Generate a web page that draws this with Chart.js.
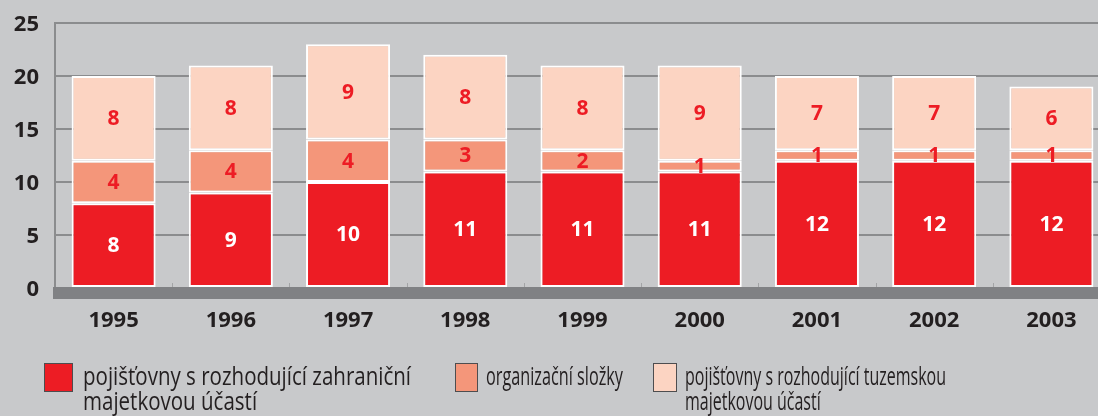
<!DOCTYPE html>
<html><head><meta charset="utf-8">
<script src="https://cdn.jsdelivr.net/npm/chart.js@4/dist/chart.umd.min.js"></script>
<style>
html,body{margin:0;padding:0;background:#c8c9cb;width:1098px;height:416px;overflow:hidden;}
#wrap{position:absolute;left:0;top:0;width:1110px;height:345px;}
#legend{position:absolute;left:0;top:0;width:1098px;height:416px;}
.sw{position:absolute;box-sizing:border-box;border:1px solid #4d4d4f;}
.txt{position:absolute;font-family:"Open Sans",sans-serif;font-size:26px;line-height:25px;color:#231f20;white-space:nowrap;transform-origin:0 0;}
.txt div{white-space:nowrap;}
</style></head>
<body>
<div id="wrap"><canvas id="c" width="1110" height="345"></canvas></div>
<div id="legend"></div>
<script>
const years = ['1995','1996','1997','1998','1999','2000','2001','2002','2003'];
const foreignValues = [8, 9, 10, 11, 11, 11, 12, 12, 12];
const branchValues = [4, 4, 4, 3, 2, 1, 1, 1, 1];
const domesticValues = [8, 8, 9, 8, 8, 9, 7, 7, 6];
const seriesNames = [
  ['pojišťovny s rozhodující zahraniční', 'majetkovou účastí'],
  ['organizační složky'],
  ['pojišťovny s rozhodující tuzemskou', 'majetkovou účastí']
];
const seriesColors = ['#ed1c24', '#f4967a', '#fcd4c2'];
const labelColors = ['#ffffff', '#ed1c24', '#ed1c24'];
const yMin = 0, yMax = 25, yStep = 5;

const FONT = '"Open Sans", sans-serif';

const bandPlugin = {
  id: 'band',
  afterDatasetsDraw(chart) {
    const ctx = chart.ctx;
    const y0 = chart.scales.y.getPixelForValue(0);
    const xs = chart.scales.x;
    ctx.save();
    ctx.strokeStyle = '#a3a4a6';
    ctx.lineWidth = 1;
    for (let i = 1; i < years.length; i++) {
      const bx = Math.round((xs.getPixelForTick(i - 1) + xs.getPixelForTick(i)) / 2) + 0.5;
      ctx.beginPath(); ctx.moveTo(bx, y0 - 5); ctx.lineTo(bx, y0); ctx.stroke();
    }
    ctx.fillStyle = '#808184';
    ctx.fillRect(53, y0 - 1, chart.width, 12);
    ctx.restore();
  }
};

const valueLabels = {
  id: 'valueLabels',
  afterDatasetsDraw(chart) {
    const ctx = chart.ctx;
    ctx.save();
    ctx.font = 'bold 21px ' + FONT;
    ctx.textAlign = 'center';
    ctx.textBaseline = 'middle';
    chart.data.datasets.forEach((ds, di) => {
      const meta = chart.getDatasetMeta(di);
      ctx.fillStyle = labelColors[di];
      meta.data.forEach((el, i) => {
        const p = el.getProps(['x', 'y', 'base'], true);
        ctx.fillText(String(ds.data[i]), p.x, (p.y + p.base) / 2 + 1);
      });
    });
    ctx.restore();
  }
};

const datasets = [foreignValues, branchValues, domesticValues].map((d, i) => ({
  label: seriesNames[i].join(' '),
  data: d,
  backgroundColor: seriesColors[i],
  borderColor: '#ffffff',
  borderWidth: 2,
  borderSkipped: false,
  barPercentage: 1,
  categoryPercentage: 0.717
}));

new Chart(document.getElementById('c'), {
  type: 'bar',
  data: { labels: years, datasets },
  options: {
    responsive: false,
    animation: false,
    events: [],
    layout: { padding: { top: 23, right: 0, bottom: 0, left: 0 } },
    plugins: { legend: { display: false }, tooltip: { enabled: false } },
    scales: {
      x: {
        stacked: true,
        grid: { display: false, drawTicks: false },
        border: { display: false },
        ticks: { color: '#231f20', font: { family: FONT, size: 22, weight: 'bold' }, padding: 20 },
        afterFit(s) { s.height = 57; s.paddingLeft = 0; s.paddingRight = 0; }
      },
      y: {
        stacked: true,
        min: yMin, max: yMax,
        grid: { color: '#8b8c8e', lineWidth: 2, drawTicks: false },
        border: { display: true, color: '#8b8c8e', width: 2 },
        ticks: { stepSize: yStep, color: '#231f20', font: { family: FONT, size: 22, weight: 'bold' }, padding: 16, labelOffset: 2 },
        afterFit(s) { s.width = 55; s.paddingTop = 0; s.paddingBottom = 0; }
      }
    }
  },
  plugins: [bandPlugin, valueLabels]
});

// HTML legend
const legendLayout = [
  { swL: 44, swW: 29, txL: 83, w: 328 },
  { swL: 455, swW: 23, txL: 486, w: 137 },
  { swL: 653, swW: 24, txL: 685, w: 261 }
];
const lg = document.getElementById('legend');
const mctx = document.createElement('canvas').getContext('2d');
mctx.font = '26px ' + FONT;
seriesNames.forEach((lines, i) => {
  const L = legendLayout[i];
  const sw = document.createElement('div');
  sw.className = 'sw';
  sw.style.cssText = `left:${L.swL}px;top:363px;width:${L.swW}px;height:29px;background:${seriesColors[i]}`;
  lg.appendChild(sw);
  const t = document.createElement('div');
  t.className = 'txt';
  t.style.left = L.txL + 'px';
  t.style.top = '363px';
  lines.forEach(s => { const d = document.createElement('div'); d.textContent = s; t.appendChild(d); });
  const mw = mctx.measureText(lines[0]).width;
  t.style.transform = `scaleX(${L.w / mw})`;
  lg.appendChild(t);
});
</script>
</body></html>
